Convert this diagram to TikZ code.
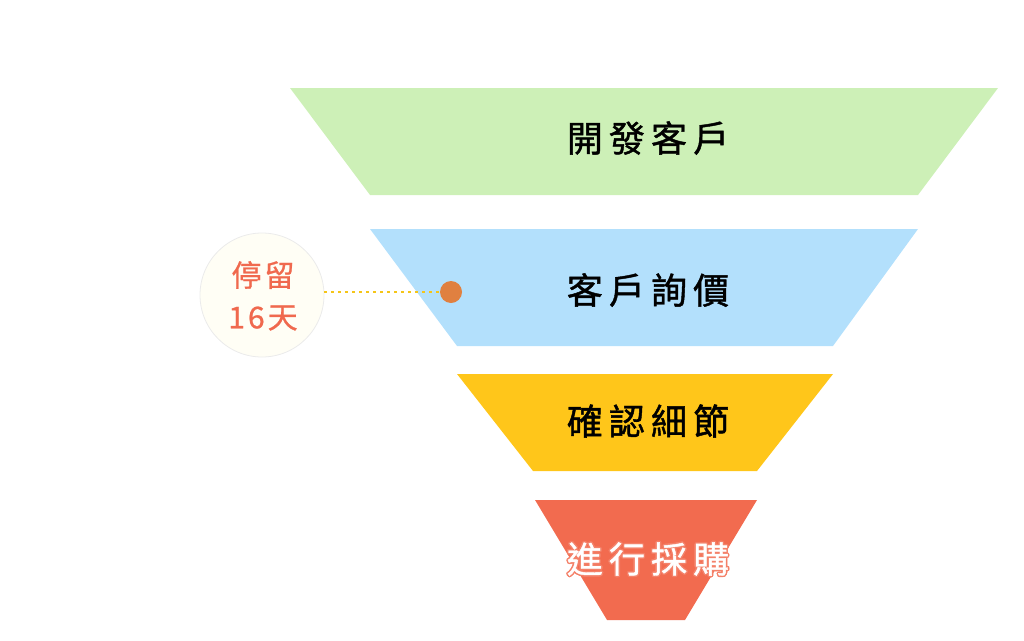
\documentclass[tikz,border=0pt]{standalone}
\usepackage{fontspec}
\newfontfamily\cjk[LetterSpace=17,FakeBold=1.2]{Noto Sans CJK TC}
\newfontfamily\cjkm[LetterSpace=10,FakeBold=0.8]{Noto Sans CJK TC}
\definecolor{stageA}{HTML}{CDF0B7}
\definecolor{stageB}{HTML}{B3E0FC}
\definecolor{stageC}{HTML}{FFC61A}
\definecolor{stageD}{HTML}{F26B4F}
\definecolor{stayred}{HTML}{F0694E}
\definecolor{dotorange}{HTML}{E08040}
\definecolor{dashyellow}{HTML}{F5C518}

\begin{document}
\begin{tikzpicture}[x=1pt,y=-1pt]
\tikzstyle{stagetext}=[font=\cjk\fontsize{36}{40}\selectfont, inner sep=0pt]
\tikzstyle{staytext}=[font=\cjkm\fontsize{30}{34}\selectfont, text=stayred, inner sep=0pt]
\useasboundingbox (0,0) rectangle (1024,640);
% funnel stages
\fill[stageA] (290,88) -- (998,88) -- (918,195) -- (370,195) -- cycle;
\fill[stageB] (370,229) -- (918,229) -- (833,346) -- (457,346) -- cycle;
\fill[stageC] (457,374) -- (833,374) -- (757,471) -- (533,471) -- cycle;
\fill[stageD] (535,500) -- (757,500) -- (685,620) -- (607,620) -- cycle;
\node (s1) [stagetext] at (648,138) {開發客戶};
\node (s2) [stagetext] at (648,290) {客戶詢價};
\node (s3) [stagetext] at (648,421) {確認細節};
% outlined last label
\foreach \a in {0,45,...,315}
  \path (648,559) ++(\a:1.5pt) node (halo\a) [stagetext, text=stageD!85] {進行採購};
\node (s4) [stagetext, text=white] at (648,559) {進行採購};
% stay marker
\node (stay) [circle, minimum size=124pt, draw=black!8, fill=yellow!4!white, line width=0.8pt] at (262,295) {};
\node (stay1) [staytext] at (263,275) {停留};
\node (stay2) [staytext] at (263,318) {16天};
\node (dot) [circle, fill=dotorange, minimum size=22pt, inner sep=0pt] at (451,292) {};
\draw[dashyellow, line width=1.2pt, dash pattern=on 3pt off 4pt] (stay.east |- dot) -- (dot.west);
\end{tikzpicture}
\end{document}
